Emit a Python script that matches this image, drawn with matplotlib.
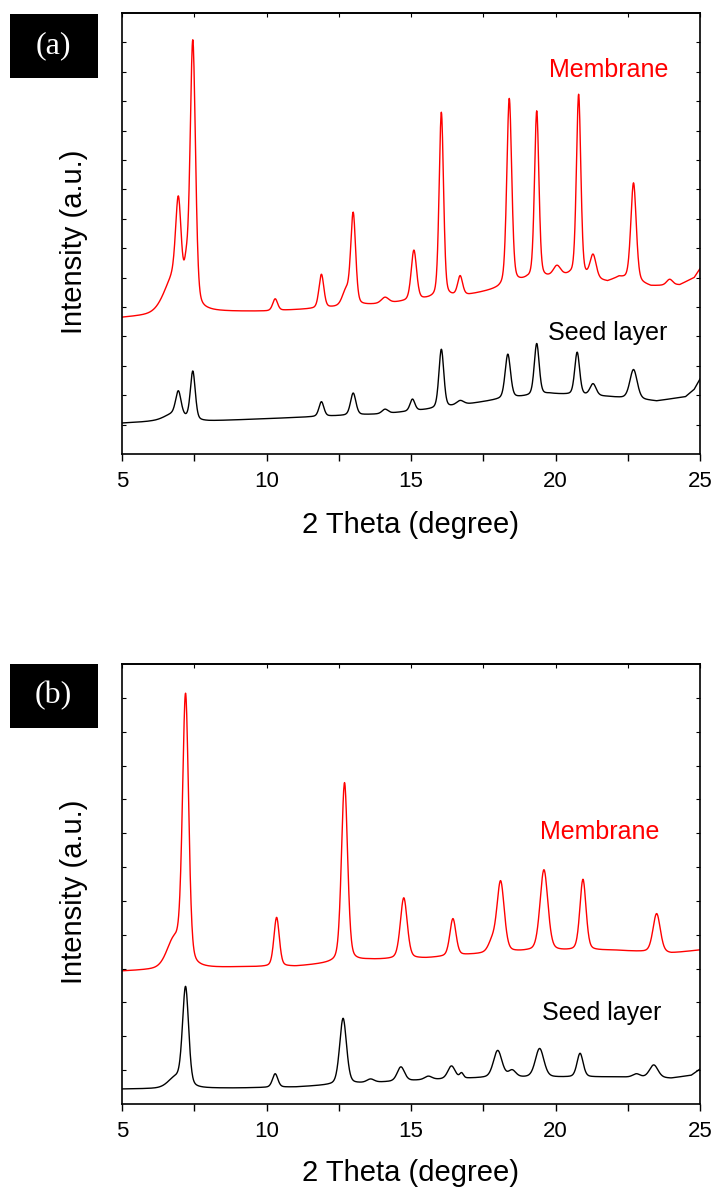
import matplotlib
matplotlib.use("Agg")
import matplotlib.pyplot as plt
from matplotlib.patches import Rectangle
import numpy as np

plt.rcParams['font.family'] = ['Liberation Sans', 'DejaVu Sans']

# ---- data (2theta in degree, intensity in a.u.) ----
# panel (a): background anchor points + peak table (position, height above background, fwhm)
a_mem_bg_x = [5, 6, 8, 10, 12, 14, 15.5, 17, 18, 19, 20.5, 21.8, 22.2, 23.3, 24.3, 24.8, 25]
a_mem_bg_y = [4.63, 4.7, 4.83, 4.85, 4.95, 5.1, 5.25, 5.4, 5.6, 5.9, 6.05, 5.85, 6.0, 5.7, 5.75, 6.0, 6.3]
a_mem_pos = [6.8, 6.95, 7.22, 7.45, 10.3, 11.9, 12.75, 13.0, 14.1, 15.1, 16.05, 16.7, 18.4, 19.35, 20.05, 20.8, 21.3, 22.7, 23.95]
a_mem_amp = [1.2, 2.8, 0.7, 9.0, 0.4, 1.15, 0.5, 3.1, 0.2, 1.7, 6.3, 0.65, 6.35, 5.7, 0.35, 6.2, 0.8, 3.35, 0.2]
a_mem_fwhm = [0.8, 0.22, 0.15, 0.22, 0.2, 0.2, 0.3, 0.2, 0.3, 0.22, 0.18, 0.2, 0.2, 0.18, 0.3, 0.18, 0.25, 0.22, 0.25]

a_seed_bg_x = [5, 6, 8, 10, 12, 14, 16, 17, 18, 19.8, 21.8, 23.5, 24.5, 24.8, 25]
a_seed_bg_y = [1.05, 1.1, 1.12, 1.2, 1.28, 1.36, 1.55, 1.7, 1.85, 2.05, 1.95, 1.8, 1.95, 2.2, 2.55]
a_seed_pos = [6.8, 6.95, 7.45, 11.9, 13.0, 14.1, 15.05, 16.05, 16.7, 18.35, 19.35, 20.75, 21.3, 22.7]
a_seed_amp = [0.25, 0.8, 1.65, 0.5, 0.75, 0.15, 0.4, 2.0, 0.15, 1.5, 1.75, 1.45, 0.4, 1.0]
a_seed_fwhm = [0.8, 0.22, 0.2, 0.2, 0.22, 0.25, 0.2, 0.2, 0.3, 0.22, 0.2, 0.2, 0.25, 0.3]

# panel (b)
b_mem_bg_x = [5, 6, 9, 11, 13.5, 15.5, 17, 19, 22, 24, 25]
b_mem_bg_y = [3.92, 3.95, 4.04, 4.06, 4.25, 4.3, 4.4, 4.5, 4.54, 4.45, 4.55]
b_mem_pos = [6.8, 7.2, 10.35, 12.7, 14.75, 16.45, 17.8, 18.1, 19.6, 20.95, 23.5]
b_mem_amp = [0.8, 7.9, 1.45, 5.3, 1.8, 1.1, 0.3, 2.1, 2.4, 2.1, 1.15]
b_mem_fwhm = [0.6, 0.25, 0.22, 0.25, 0.28, 0.25, 0.3, 0.3, 0.32, 0.25, 0.3]

b_seed_bg_x = [5, 9, 11, 13.5, 15.5, 17.5, 22, 24, 24.7, 25]
b_seed_bg_y = [0.44, 0.47, 0.5, 0.62, 0.71, 0.77, 0.8, 0.76, 0.85, 1.03]
b_seed_pos = [6.85, 7.2, 10.3, 12.65, 13.6, 14.65, 15.6, 16.4, 16.75, 18.0, 18.5, 19.45, 20.85, 22.8, 23.4]
b_seed_amp = [0.3, 2.9, 0.4, 1.95, 0.1, 0.42, 0.1, 0.38, 0.15, 0.8, 0.2, 0.85, 0.7, 0.1, 0.38]
b_seed_fwhm = [0.6, 0.25, 0.22, 0.28, 0.3, 0.3, 0.3, 0.3, 0.15, 0.35, 0.3, 0.35, 0.25, 0.3, 0.35]


def pattern(x, bg_x, bg_y, pos, amp, fwhm, eta=0.3):
    # background plus pseudo-Voigt peaks
    y = np.interp(x, bg_x, bg_y)
    for p, a, w in zip(pos, amp, fwhm):
        d = (x - p) / (w / 2)
        g = np.exp(-np.log(2) * d**2)
        l = 1 / (1 + d**2)
        y = y + a * ((1 - eta) * g + eta * l)
    return y


tt = np.linspace(5, 25, 2001)

fig = plt.figure(figsize=(7.19, 11.94), dpi=100)
W, H = 719, 1194

panels = [
    dict(top=13, bottom=454, ymax=15, label="(a)", box=(10, 14, 88, 64),
         mem=(a_mem_bg_x, a_mem_bg_y, a_mem_pos, a_mem_amp, a_mem_fwhm),
         seed=(a_seed_bg_x, a_seed_bg_y, a_seed_pos, a_seed_amp, a_seed_fwhm),
         mem_txt=(609, 70), seed_txt=(608, 333), xlab_y=525),
    dict(top=664, bottom=1104, ymax=13, label="(b)", box=(10, 664, 88, 64),
         mem=(b_mem_bg_x, b_mem_bg_y, b_mem_pos, b_mem_amp, b_mem_fwhm),
         seed=(b_seed_bg_x, b_seed_bg_y, b_seed_pos, b_seed_amp, b_seed_fwhm),
         mem_txt=(600, 832), seed_txt=(602, 1013), xlab_y=1173),
]

for pnl in panels:
    left, right = 122, 700
    ax = fig.add_axes([left / W, 1 - pnl['bottom'] / H, (right - left) / W,
                       (pnl['bottom'] - pnl['top']) / H])
    ax.plot(tt, pattern(tt, *pnl['mem']), color='red', lw=1.0)
    ax.plot(tt, pattern(tt, *pnl['seed']), color='black', lw=1.0)
    ax.set_xlim(5, 25)
    ax.set_ylim(0, pnl['ymax'])

    ax.set_xticks([5, 10, 15, 20, 25])
    ax.set_xticks([7.5, 12.5, 17.5, 22.5], minor=True)
    ax.set_yticks(np.arange(1, pnl['ymax']))
    ax.tick_params(axis='x', which='both', direction='out', length=5, width=1,
                   labelsize=16, pad=7, top=False)
    ax.tick_params(axis='y', which='both', direction='in', length=3, width=0.8,
                   left=True, right=True, labelleft=False)
    for s in ax.spines.values():
        s.set_linewidth(1.2)

    # short inward ticks along the top edge
    sec = ax.secondary_xaxis('top')
    sec.set_xticks([5, 10, 15, 20, 25])
    sec.set_xticks([7.5, 12.5, 17.5, 22.5], minor=True)
    sec.tick_params(which='both', direction='in', length=3, width=0.8, labeltop=False)
    sec.spines['top'].set_linewidth(1.2)

    fig.text(411 / W, 1 - pnl['xlab_y'] / H, "2 Theta (degree)",
             ha='center', va='center', fontsize=21)

    # intensity label
    fig.text(73.5 / W, 1 - ((pnl['top'] + pnl['bottom']) / 2 + 8) / H, "Intensity (a.u.)",
             rotation=90, ha='center', va='center', fontsize=21)

    # series labels
    fig.text(pnl['mem_txt'][0] / W, 1 - pnl['mem_txt'][1] / H, "Membrane",
             color='red', ha='center', va='center', fontsize=18)
    fig.text(pnl['seed_txt'][0] / W, 1 - pnl['seed_txt'][1] / H, "Seed layer",
             color='black', ha='center', va='center', fontsize=18)

    # black panel tag
    bx, by, bw, bh = pnl['box']
    fig.patches.append(Rectangle((bx / W, 1 - (by + bh) / H), bw / W, bh / H,
                                 transform=fig.transFigure, facecolor='black',
                                 edgecolor='none'))
    fig.text(53 / W, 1 - (by + bh / 2) / H, pnl['label'], color='white',
             ha='center', va='center', fontsize=23, family=['Liberation Serif', 'DejaVu Serif'])

fig.savefig("out.png", dpi=100)
